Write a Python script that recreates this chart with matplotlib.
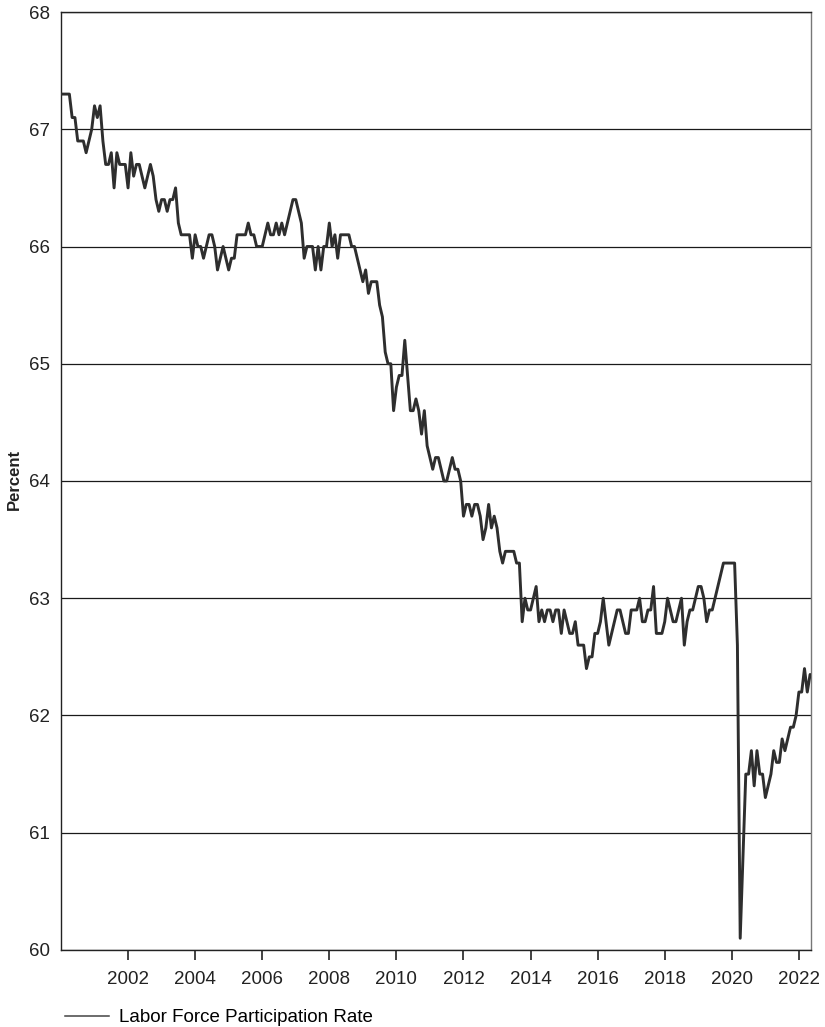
import numpy as np
import matplotlib.pyplot as plt

plt.rcParams['font.family'] = ['Liberation Sans', 'DejaVu Sans']

# monthly labor force participation rate, Jan 2000 - May 2022 (percent)
lfpr_2000 = [67.3, 67.3, 67.3, 67.3, 67.1, 67.1, 66.9, 66.9, 66.9, 66.8, 66.9, 67.0]
lfpr_2001 = [67.2, 67.1, 67.2, 66.9, 66.7, 66.7, 66.8, 66.5, 66.8, 66.7, 66.7, 66.7]
lfpr_2002 = [66.5, 66.8, 66.6, 66.7, 66.7, 66.6, 66.5, 66.6, 66.7, 66.6, 66.4, 66.3]
lfpr_2003 = [66.4, 66.4, 66.3, 66.4, 66.4, 66.5, 66.2, 66.1, 66.1, 66.1, 66.1, 65.9]
lfpr_2004 = [66.1, 66.0, 66.0, 65.9, 66.0, 66.1, 66.1, 66.0, 65.8, 65.9, 66.0, 65.9]
lfpr_2005 = [65.8, 65.9, 65.9, 66.1, 66.1, 66.1, 66.1, 66.2, 66.1, 66.1, 66.0, 66.0]
lfpr_2006 = [66.0, 66.1, 66.2, 66.1, 66.1, 66.2, 66.1, 66.2, 66.1, 66.2, 66.3, 66.4]
lfpr_2007 = [66.4, 66.3, 66.2, 65.9, 66.0, 66.0, 66.0, 65.8, 66.0, 65.8, 66.0, 66.0]
lfpr_2008 = [66.2, 66.0, 66.1, 65.9, 66.1, 66.1, 66.1, 66.1, 66.0, 66.0, 65.9, 65.8]
lfpr_2009 = [65.7, 65.8, 65.6, 65.7, 65.7, 65.7, 65.5, 65.4, 65.1, 65.0, 65.0, 64.6]
lfpr_2010 = [64.8, 64.9, 64.9, 65.2, 64.9, 64.6, 64.6, 64.7, 64.6, 64.4, 64.6, 64.3]
lfpr_2011 = [64.2, 64.1, 64.2, 64.2, 64.1, 64.0, 64.0, 64.1, 64.2, 64.1, 64.1, 64.0]
lfpr_2012 = [63.7, 63.8, 63.8, 63.7, 63.8, 63.8, 63.7, 63.5, 63.6, 63.8, 63.6, 63.7]
lfpr_2013 = [63.6, 63.4, 63.3, 63.4, 63.4, 63.4, 63.4, 63.3, 63.3, 62.8, 63.0, 62.9]
lfpr_2014 = [62.9, 63.0, 63.1, 62.8, 62.9, 62.8, 62.9, 62.9, 62.8, 62.9, 62.9, 62.7]
lfpr_2015 = [62.9, 62.8, 62.7, 62.7, 62.8, 62.6, 62.6, 62.6, 62.4, 62.5, 62.5, 62.7]
lfpr_2016 = [62.7, 62.8, 63.0, 62.8, 62.6, 62.7, 62.8, 62.9, 62.9, 62.8, 62.7, 62.7]
lfpr_2017 = [62.9, 62.9, 62.9, 63.0, 62.8, 62.8, 62.9, 62.9, 63.1, 62.7, 62.7, 62.7]
lfpr_2018 = [62.8, 63.0, 62.9, 62.8, 62.8, 62.9, 63.0, 62.6, 62.8, 62.9, 62.9, 63.0]
lfpr_2019 = [63.1, 63.1, 63.0, 62.8, 62.9, 62.9, 63.0, 63.1, 63.2, 63.3, 63.3, 63.3]
lfpr_2020 = [63.3, 63.3, 62.6, 60.1, 60.8, 61.5, 61.5, 61.7, 61.4, 61.7, 61.5, 61.5]
lfpr_2021 = [61.3, 61.4, 61.5, 61.7, 61.6, 61.6, 61.8, 61.7, 61.8, 61.9, 61.9, 62.0]
lfpr_2022 = [62.2, 62.2, 62.4, 62.2, 62.35]

lfpr = np.array(lfpr_2000 + lfpr_2001 + lfpr_2002 + lfpr_2003 + lfpr_2004 + lfpr_2005
                + lfpr_2006 + lfpr_2007 + lfpr_2008 + lfpr_2009 + lfpr_2010 + lfpr_2011
                + lfpr_2012 + lfpr_2013 + lfpr_2014 + lfpr_2015 + lfpr_2016 + lfpr_2017
                + lfpr_2018 + lfpr_2019 + lfpr_2020 + lfpr_2021 + lfpr_2022)
t = 2000 + np.arange(len(lfpr)) / 12.0

year_ticks = [2002, 2004, 2006, 2008, 2010, 2012, 2014, 2016, 2018, 2020, 2022]
pct_ticks = [60, 61, 62, 63, 64, 65, 66, 67, 68]

fig = plt.figure(figsize=(8.25, 10.27), dpi=100)
ax = fig.add_axes([0.0739, 0.075, 0.9091, 0.9133])

for y in pct_ticks:
    ax.axhline(y, color='#1a1a1a', lw=0.9, zorder=1)

ax.plot(t, lfpr, '-', color='#2e2e2e', lw=2.1, zorder=3,
        solid_joinstyle='round', solid_capstyle='round')
# legend handle is drawn thinner than the data line
ax.plot([], [], '-', color='#444444', lw=1.1, label='Labor Force Participation Rate')

ax.set_xlim(2000, 2022.36)
ax.set_ylim(60, 68)
ax.set_xticks(year_ticks)
ax.set_yticks(pct_ticks)
ax.tick_params(axis='x', direction='out', length=7, width=1.2, pad=8,
               labelsize=13.5, colors='#222222')
ax.tick_params(axis='y', length=0, pad=8, labelsize=13.5, colors='#222222')
for s in ax.spines.values():
    s.set_color('#222222')
    s.set_linewidth(1.0)
ax.spines['right'].set_color('#777777')

fig.text(0.017, 0.533, 'Percent', rotation=90, ha='center', va='center',
         fontsize=12, fontweight='bold', color='#222222')

ax.legend(loc='upper left', bbox_to_anchor=(-0.005, -0.055), frameon=False,
          fontsize=13.5, handlelength=2.35, handletextpad=0.55, borderaxespad=0)

plt.savefig('out.png', dpi=100)
